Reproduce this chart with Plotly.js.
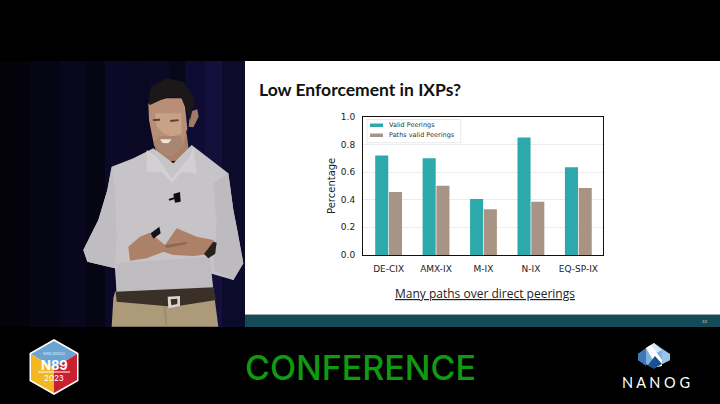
<!DOCTYPE html>
<html><head><meta charset="utf-8">
<script src="https://cdn.plot.ly/plotly-3.0.1.min.js"></script>
<style>html,body{margin:0;padding:0;background:#000;overflow:hidden}</style>
</head><body><div id="chart" style="width:720px;height:404px"></div>
<script>
const categories = ["DE-CIX","AMX-IX","M-IX","N-IX","EQ-SP-IX"];
const seriesNames = ["Valid Peerings","Paths valid Peerings"];
const validPeerings = [0.72,0.70,0.405,0.85,0.635];
const pathsValidPeerings = [0.455,0.50,0.33,0.385,0.485];
const yTicks = [0,0.2,0.4,0.6,0.8,1.0];
const seriesColors = ['#2ea9ab','#a89485'];
const W=720,H=404;
const fx=x=>x/W, fy=y=>1-y/H;
function poly(pts,color,layer){
  return {type:'path',xref:'paper',yref:'paper',layer:layer||'below',
    path:'M'+pts.map(p=>fx(p[0])+','+fy(p[1])).join('L')+'Z',
    fillcolor:color,line:{width:0}};
}
function rect(x0,y0,x1,y1,color,layer,line){return {type:'rect',xref:'paper',yref:'paper',layer:layer||'below',
  x0:fx(x0),x1:fx(x1),y0:fy(y1),y1:fy(y0),fillcolor:color,line:line||{width:0}};}
const z=pts=>pts.map(p=>[p[0]/3,p[1]/3+50]);      // body sketch grid
const h=pts=>pts.map(p=>[p[0]/3+140,p[1]/3+70]);  // head sketch grid
const curtain=[[0,30,'#04030b'],[30,60,'#060514'],[60,85,'#09071d'],[85,105,'#060514'],[105,125,'#0b0926'],[125,150,'#0a0822'],[150,170,'#0b0926'],[170,185,'#080719'],[185,205,'#0f0c34'],[205,222,'#13103c'],[222,245,'#0d0b2c']];
const shapes=[
  ...curtain.map(c=>rect(c[0],61,c[1],327,c[2])),
  rect(245,61,720,314,'#ffffff'),
  rect(245,314,720,315,'#9aa6ac'),
  rect(245,315,720,327,'#154a59'),
  // trousers
  poly(z([[340,745],[345,725],[640,715],[655,830],[335,830]]),'#ad9a78'),
  poly(z([[490,770],[498,830],[502,830],[496,770]]),'#9c8a6b'),
  // neck
  poly(h([[40,220],[140,190],[150,270],[60,275]]),'#a97f68'),
  // shirt
  poly(z([[460,295],[400,325],[335,350],[322,420],[295,510],[250,600],[262,635],[345,655],[350,730],[640,720],[630,670],[700,690],[730,640],[712,540],[700,480],[685,370],[575,285],[520,340]]),'#c6c4c7'),
  poly(z([[335,350],[345,420],[350,560],[345,655],[262,635],[250,600],[295,510],[322,420]]),'#bfbdc1'),
  poly(z([[640,400],[685,370],[700,480],[730,640],[700,690],[640,660],[650,520]]),'#bdbbc0'),
  poly(z([[350,640],[630,620],[640,720],[350,730]]),'#bebcbf'),
  poly(z([[440,300],[470,320],[515,385],[570,320],[580,290],[590,370],[545,365],[515,400],[485,365],[440,365]]),'#d2d0d3'),
  // belt and buckle
  poly(z([[347,725],[640,712],[648,750],[520,770],[350,755]]),'#3b3028'),
  poly(z([[503,740],[540,738],[540,768],[505,775]]),'#d8d6d0'),
  poly(z([[512,748],[532,746],[532,762],[514,766]]),'#3b3028'),
  // hands, watch, remote, mic
  poly(z([[385,590],[420,560],[450,548],[495,585],[530,535],[590,560],[640,570],[648,610],[580,618],[520,615],[490,605],[440,625],[390,632]]),'#ad8068'),
  poly(z([[495,585],[560,576],[560,582],[500,594]]),'#8d6753'),
  poly(z([[612,612],[640,575],[650,578],[645,612],[625,625]]),'#2a211d'),
  poly(z([[452,550],[478,530],[482,550],[460,566]]),'#15121a'),
  poly(z([[520,432],[540,426],[542,455],[525,458]]),'#0c0c0e'),
  poly(z([[506,447],[522,442],[522,448],[508,452]]),'#0c0c0e'),
  // head
  poly(h([[150,125],[172,118],[176,140],[160,172],[146,170]]),'#a07a64'),
  poly(h([[25,100],[80,85],[125,85],[135,110],[142,175],[127,230],[95,258],[65,250],[40,215],[27,150]]),'#b88f76'),
  poly(h([[45,130],[125,130],[125,190],[95,200],[70,190],[50,170]]),'#c9a187'),
  poly(h([[40,215],[60,198],[110,198],[127,200],[127,230],[95,258],[65,250]]),'#a88670'),
  poly(h([[25,100],[33,52],[80,25],[130,35],[165,90],[150,150],[137,112],[125,85],[80,82],[30,105]]),'#1c1718'),
  poly(h([[38,148],[60,146],[60,152],[40,153]]),'#5a3c32'),
  poly(h([[90,150],[115,148],[116,153],[92,156]]),'#5a3c32'),
  poly(h([[60,208],[95,208],[85,220],[68,219]]),'#efe2d6'),
  // N89 badge
  poly([[54,339],[78.5,353],[78.5,381],[54,395],[29.5,381],[29.5,353]],'#ffffff'),
  poly([[54,341],[77,354],[54,368],[31,354]],'#6ba3d3'),
  poly([[31,354],[54,368],[54,393],[31,380]],'#f3b723'),
  poly([[77,354],[54,368],[54,393],[77,380]],'#c9202f'),
  rect(38,371.5,70,372.5,'#ffffff'),
  // NANOG mark
  poly([[654,343],[670,354],[670,360],[654,368.5],[638,360],[638,354]],'#7fb0de'),
  poly([[646,348],[654,343],[662,350],[654,354]],'#d9e7f5'),
  poly([[638,354],[646,348],[646,366],[638,360]],'#3f78b8'),
  poly([[670,354],[662,350],[662,364],[670,360]],'#9cc4e8'),
  poly([[646,348],[651,345],[662,360],[662,366],[657,367]],'#ffffff'),
  poly([[654,368.5],[662,364],[655,356],[648,365]],'#1c4f90'),
  // hand-sized key inside the plot
  rect(367,119.5,460.7,142.7,'rgba(255,255,255,0.92)','above',{width:0.6,color:'#dcdcdc'}),
  rect(370,123.5,383,127,seriesColors[0],'above'),
  rect(370,133.5,383,137,seriesColors[1],'above'),
];
const txt=(text,x,y,size,color,family,anchor,extra)=>({xref:'paper',yref:'paper',x:fx(x),y:fy(y),
  text,showarrow:false,xanchor:anchor||'center',yanchor:'middle',borderpad:0,borderwidth:0,
  font:Object.assign({size,color,family:family||'DejaVu Sans'},extra||{})});
const annotations=[
  txt('<b>Low Enforcement in IXPs?</b>',259,90,17.5,'#111111','Lato','left'),
  txt('<span style="text-decoration:underline">Many paths over direct peerings</span>',485,293,12,'#222222','Open Sans'),
  txt('CONFERENCE',360,367,34,'#0f9a10','Inter','center',{weight:500}),
  txt('N A N O G',656,382,14.5,'#ffffff','Lato'),
  txt('<b>N89</b>',54,365,13,'#ffffff','Inter'),
  txt('SAN DIEGO',54,353,4,'#e8f0f8','Inter'),
  txt('2023',54,378,8,'#ffffff','Inter'),
  txt('33',705,321,4,'#d0d8dc','DejaVu Sans'),
  txt(seriesNames[0],388.5,125,6.5,'#333333','DejaVu Sans','left'),
  txt(seriesNames[1],388.5,135,6.5,'#333333','DejaVu Sans','left'),
];
Plotly.newPlot('chart',[
  {type:'bar',name:seriesNames[0],x:categories,y:validPeerings,marker:{color:seriesColors[0]}},
  {type:'bar',name:seriesNames[1],x:categories,y:pathsValidPeerings,marker:{color:seriesColors[1]}}
],{
  width:W,height:H,margin:{l:0,r:0,t:0,b:0,pad:0},
  paper_bgcolor:'#000000',plot_bgcolor:'#ffffff',
  barmode:'group',bargap:0.42,bargroupgap:0.05,showlegend:false,
  font:{family:'DejaVu Sans',color:'#222222'},
  xaxis:{domain:[363/W,603/W],range:[-0.54,4.52],type:'category',tickfont:{size:9,color:'#222222'},
    showgrid:false,showline:true,mirror:true,linecolor:'#111111',linewidth:1,ticks:'outside',ticklen:5,tickcolor:'rgba(0,0,0,0)',automargin:false,zeroline:false},
  yaxis:{domain:[1-255/H,1-116.7/H],range:[0,1],tickvals:yTicks,tickformat:'.1f',tickfont:{size:9,color:'#222222'},
    title:{text:'Percentage',font:{size:10,color:'#222222'},standoff:3},
    showgrid:true,gridcolor:'#ececec',gridwidth:1,showline:true,mirror:true,linecolor:'#111111',linewidth:1,ticks:'outside',ticklen:5,tickcolor:'rgba(0,0,0,0)',automargin:false,zeroline:false},
  shapes,annotations
},{displayModeBar:false,staticPlot:true});
</script></body></html>
